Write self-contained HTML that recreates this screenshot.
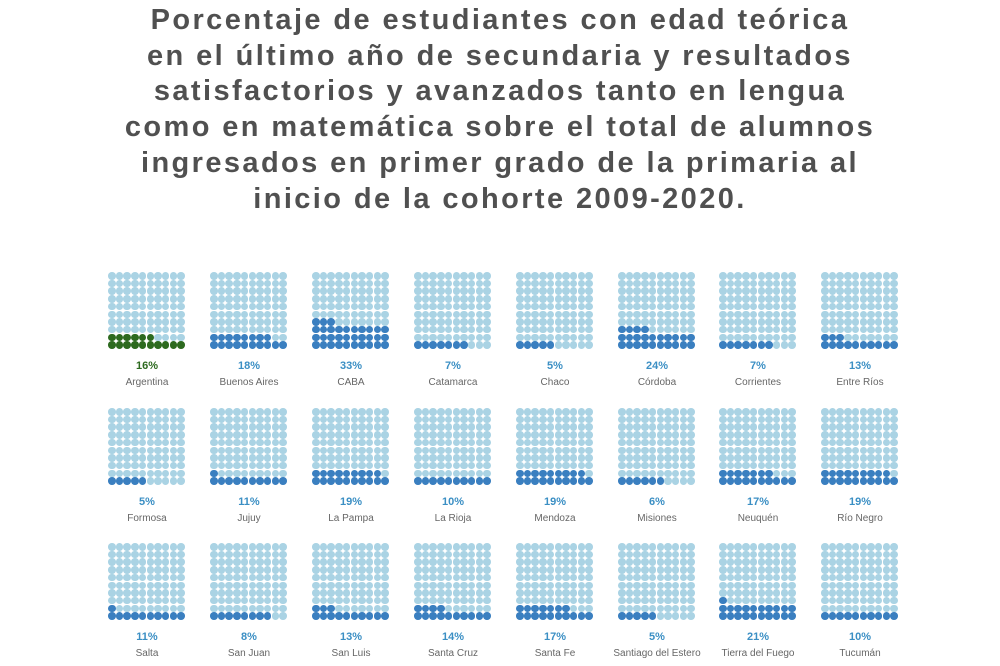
<!DOCTYPE html>
<html><head><meta charset="utf-8"><style>
body{margin:0;width:1000px;height:666px;background:#fff;overflow:hidden;font-family:"Liberation Sans",sans-serif;position:relative}
.t{position:absolute;left:0;width:1000px;top:3px;text-align:center;font-weight:bold;font-size:29px;line-height:35.7px;color:#505050;letter-spacing:2.4px}
.cell{position:absolute;width:80px}
.g{position:absolute;left:0;top:0;width:78px;height:78px}
.d{position:absolute;width:7.6px;height:7.6px;border-radius:50%;background:#aad3e4}
.p{position:absolute;top:88px;left:-20px;width:118px;text-align:center;font-size:11px;font-weight:bold;color:#3b8fc4}
.n{position:absolute;top:105px;left:-30px;width:138px;text-align:center;font-size:10px;color:#666}
</style></head><body>
<div class="t">Porcentaje de estudiantes con edad teórica<br>en el último año de secundaria y resultados<br>satisfactorios y avanzados tanto en lengua<br>como en matemática sobre el total de alumnos<br>ingresados en primer grado de la primaria al<br>inicio de la cohorte 2009-2020.</div>
<div id="root"></div>
<script>
var data=[["Argentina",16],["Buenos Aires",18],["CABA",33],["Catamarca",7],["Chaco",5],["Córdoba",24],["Corrientes",7],["Entre Ríos",13],
["Formosa",5],["Jujuy",11],["La Pampa",19],["La Rioja",10],["Mendoza",19],["Misiones",6],["Neuquén",17],["Río Negro",19],
["Salta",11],["San Juan",8],["San Luis",13],["Santa Cruz",14],["Santa Fe",17],["Santiago del Estero",5],["Tierra del Fuego",21],["Tucumán",10]];
var xs=[108,210,312,414,516,618,719,821],ys=[272,408,543];
var h='';
data.forEach(function(d,i){
var c=i%8,r=Math.floor(i/8);
var col=i==0?'#2d6a1f':'#3a7fc0';
h+='<div class="cell" style="left:'+xs[c]+'px;top:'+ys[r]+'px"><div class="g">';
for(var k=0;k<100;k++){var row=Math.floor(k/10),cc=k%10;
var x=cc*7.7,y=(9-row)*7.7;
h+='<div class="d" style="left:'+x+'px;top:'+y+'px'+(k<d[1]?';background:'+col:'')+'"></div>';}
h+='</div><div class="p" style="color:'+(i==0?'#2d6a1f':'#3b8fc4')+'">'+d[1]+'%</div><div class="n">'+d[0]+'</div></div>';
});
document.getElementById('root').innerHTML=h;
</script>
</body></html>
